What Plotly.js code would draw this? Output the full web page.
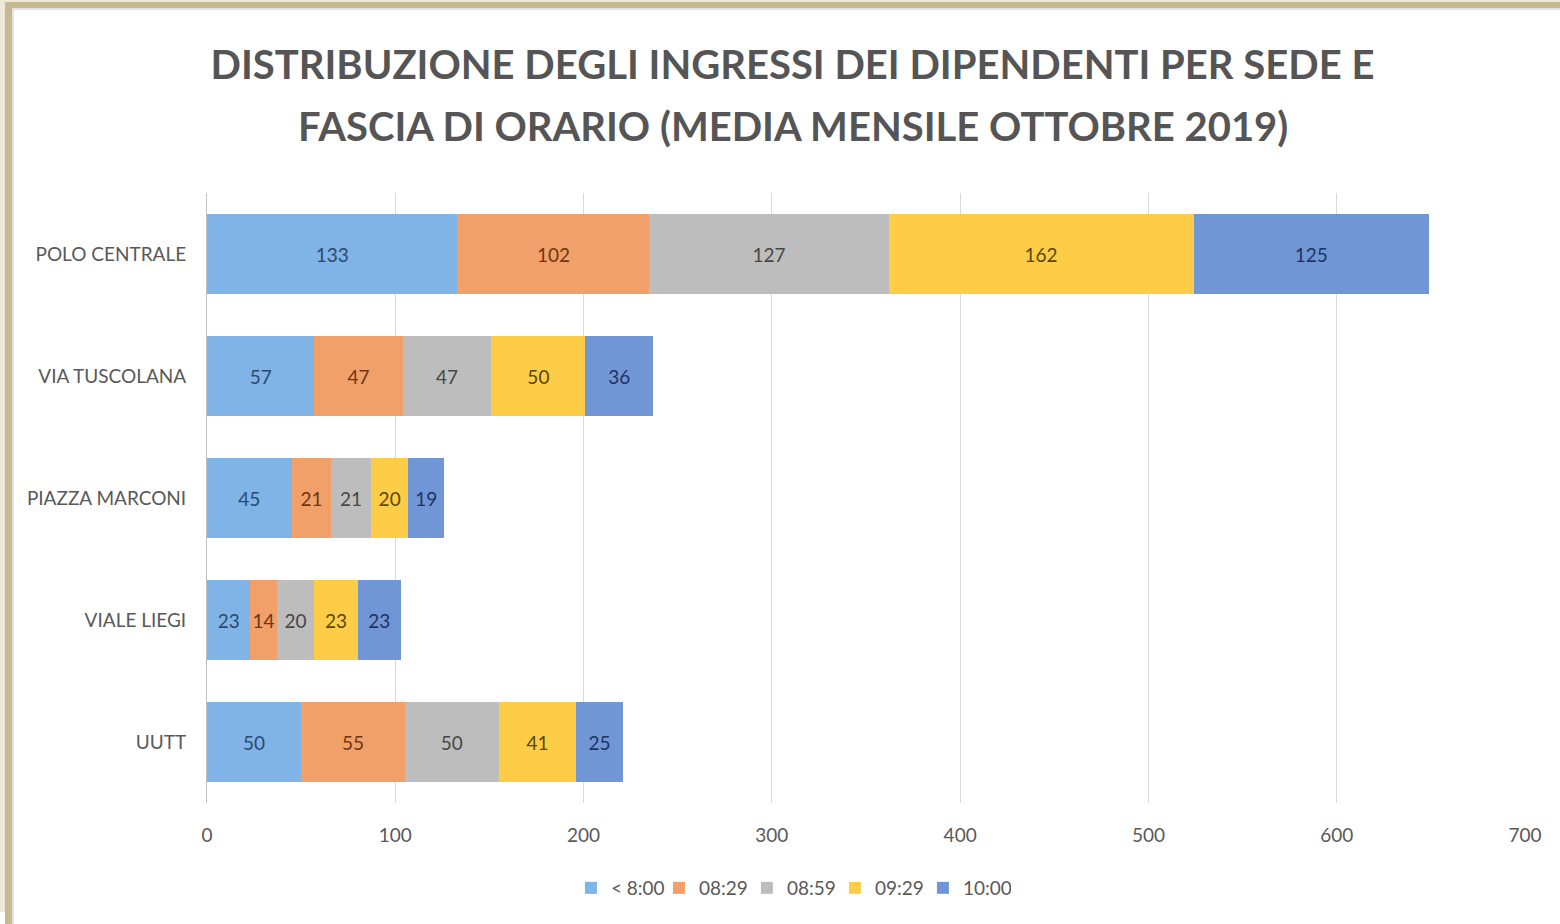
<!DOCTYPE html>
<html>
<head>
<meta charset="utf-8">
<script src="https://cdn.plot.ly/plotly-3.0.1.min.js"></script>
<style>
  html, body { margin: 0; padding: 0; background: #ffffff; }
  #wrap { position: relative; width: 1560px; height: 924px; overflow: hidden; }
  #chart { position: absolute; left: 0; top: 0; width: 1560px; height: 924px; }
  .bd { position: absolute; pointer-events: none; }
</style>
</head>
<body>
<div id="wrap">
  <div id="chart"></div>
  <div class="bd" style="left:0;top:0;width:1560px;height:2px;background:#ece8da;"></div>
  <div class="bd" style="left:0;top:0;width:5px;height:912px;background:#ece8da;"></div>
  <div class="bd" style="left:5px;top:2px;width:1555px;height:6px;background:#c6bb90;"></div>
  <div class="bd" style="left:5px;top:2px;width:7px;height:922px;background:#c6bb90;"></div>
  <div class="bd" style="left:12px;top:8px;width:1548px;height:2px;background:#e2e2e8;"></div>
  <div class="bd" style="left:12px;top:8px;width:2px;height:916px;background:#e2e2e8;"></div>
</div>
<script>
const categories = ["POLO CENTRALE", "VIA TUSCOLANA", "PIAZZA MARCONI", "VIALE LIEGI", "UUTT"];
const seriesNames = ["< 8:00", "08:29", "08:59", "09:29", "10:00"];
const before800 = [133, 57, 45, 23, 50];
const at0829 = [102, 47, 21, 14, 55];
const at0859 = [127, 47, 21, 20, 50];
const at0929 = [162, 50, 20, 23, 41];
const at1000 = [125, 36, 19, 23, 25];
const xTicks = [0, 100, 200, 300, 400, 500, 600, 700];

const seriesValues = [before800, at0829, at0859, at0929, at1000];
const barColors = ["#80b3e6", "#f1a06a", "#bdbdbd", "#fecd47", "#7096d6"];
const labelColors = ["#2c4a6e", "#6e3512", "#474747", "#5a4600", "#1f3363"];

const FONT = "Lato, 'Open Sans', sans-serif";

const traces = seriesValues.map((vals, i) => ({
  type: "bar",
  orientation: "h",
  name: seriesNames[i],
  y: categories,
  x: vals,
  marker: { color: barColors[i], line: { width: 0 } },
  text: vals.map(String),
  textposition: "inside",
  insidetextanchor: "middle",
  constraintext: "none",
  textfont: { family: FONT, size: 19, color: labelColors[i] },
  hoverinfo: "x+name"
}));

const layout = {
  width: 1560,
  height: 924,
  paper_bgcolor: "#ffffff",
  plot_bgcolor: "#ffffff",
  barmode: "stack",
  bargap: 0.34,
  margin: { l: 207, r: 35, t: 193, b: 121 },
  font: { family: FONT, color: "#595959" },
  title: {
    text: "DISTRIBUZIONE DEGLI INGRESSI DEI DIPENDENTI PER SEDE E",
    font: { family: FONT, size: 40, color: "#555555", weight: "bold" },
    x: 0.508, xanchor: "center",
    xref: "container",
    yref: "container", y: 1 - 65 / 924, yanchor: "middle"
  },
  annotations: [{
    text: "FASCIA DI ORARIO (MEDIA MENSILE OTTOBRE 2019)",
    font: { family: FONT, size: 40, color: "#555555", weight: "bold" },
    xref: "paper", yref: "paper",
    x: (793 - 207) / 1318, xanchor: "center",
    y: 1 + (193 - 126) / 610, yanchor: "middle",
    showarrow: false
  }],
  xaxis: {
    range: [0, 700],
    tickvals: xTicks,
    ticktext: xTicks.map(String),
    showgrid: true,
    gridcolor: "#d9d9d9",
    gridwidth: 1,
    zeroline: false,
    showline: false,
    ticks: "outside",
    ticklen: 15,
    tickcolor: "rgba(0,0,0,0)",
    tickfont: { family: FONT, size: 19, color: "#595959" },
    fixedrange: true
  },
  yaxis: {
    autorange: "reversed",
    showgrid: false,
    zeroline: false,
    showline: true,
    linecolor: "#bfbfbf",
    linewidth: 1,
    ticks: "outside",
    ticklen: 16,
    tickcolor: "rgba(0,0,0,0)",
    tickfont: { family: FONT, size: 19, color: "#595959" },
    fixedrange: true
  },
  legend: {
    orientation: "h",
    xref: "container", yref: "container",
    x: 0.507, xanchor: "center",
    y: 1 - 888 / 924, yanchor: "middle",
    font: { family: FONT, size: 19, color: "#595959" },
    itemwidth: 30,
    entrywidth: 43,
    entrywidthmode: "pixels",
    traceorder: "normal",
    bgcolor: "rgba(0,0,0,0)"
  },
  showlegend: true
};

Plotly.newPlot("chart", traces, layout, { displayModeBar: false, responsive: false });
</script>
</body>
</html>
